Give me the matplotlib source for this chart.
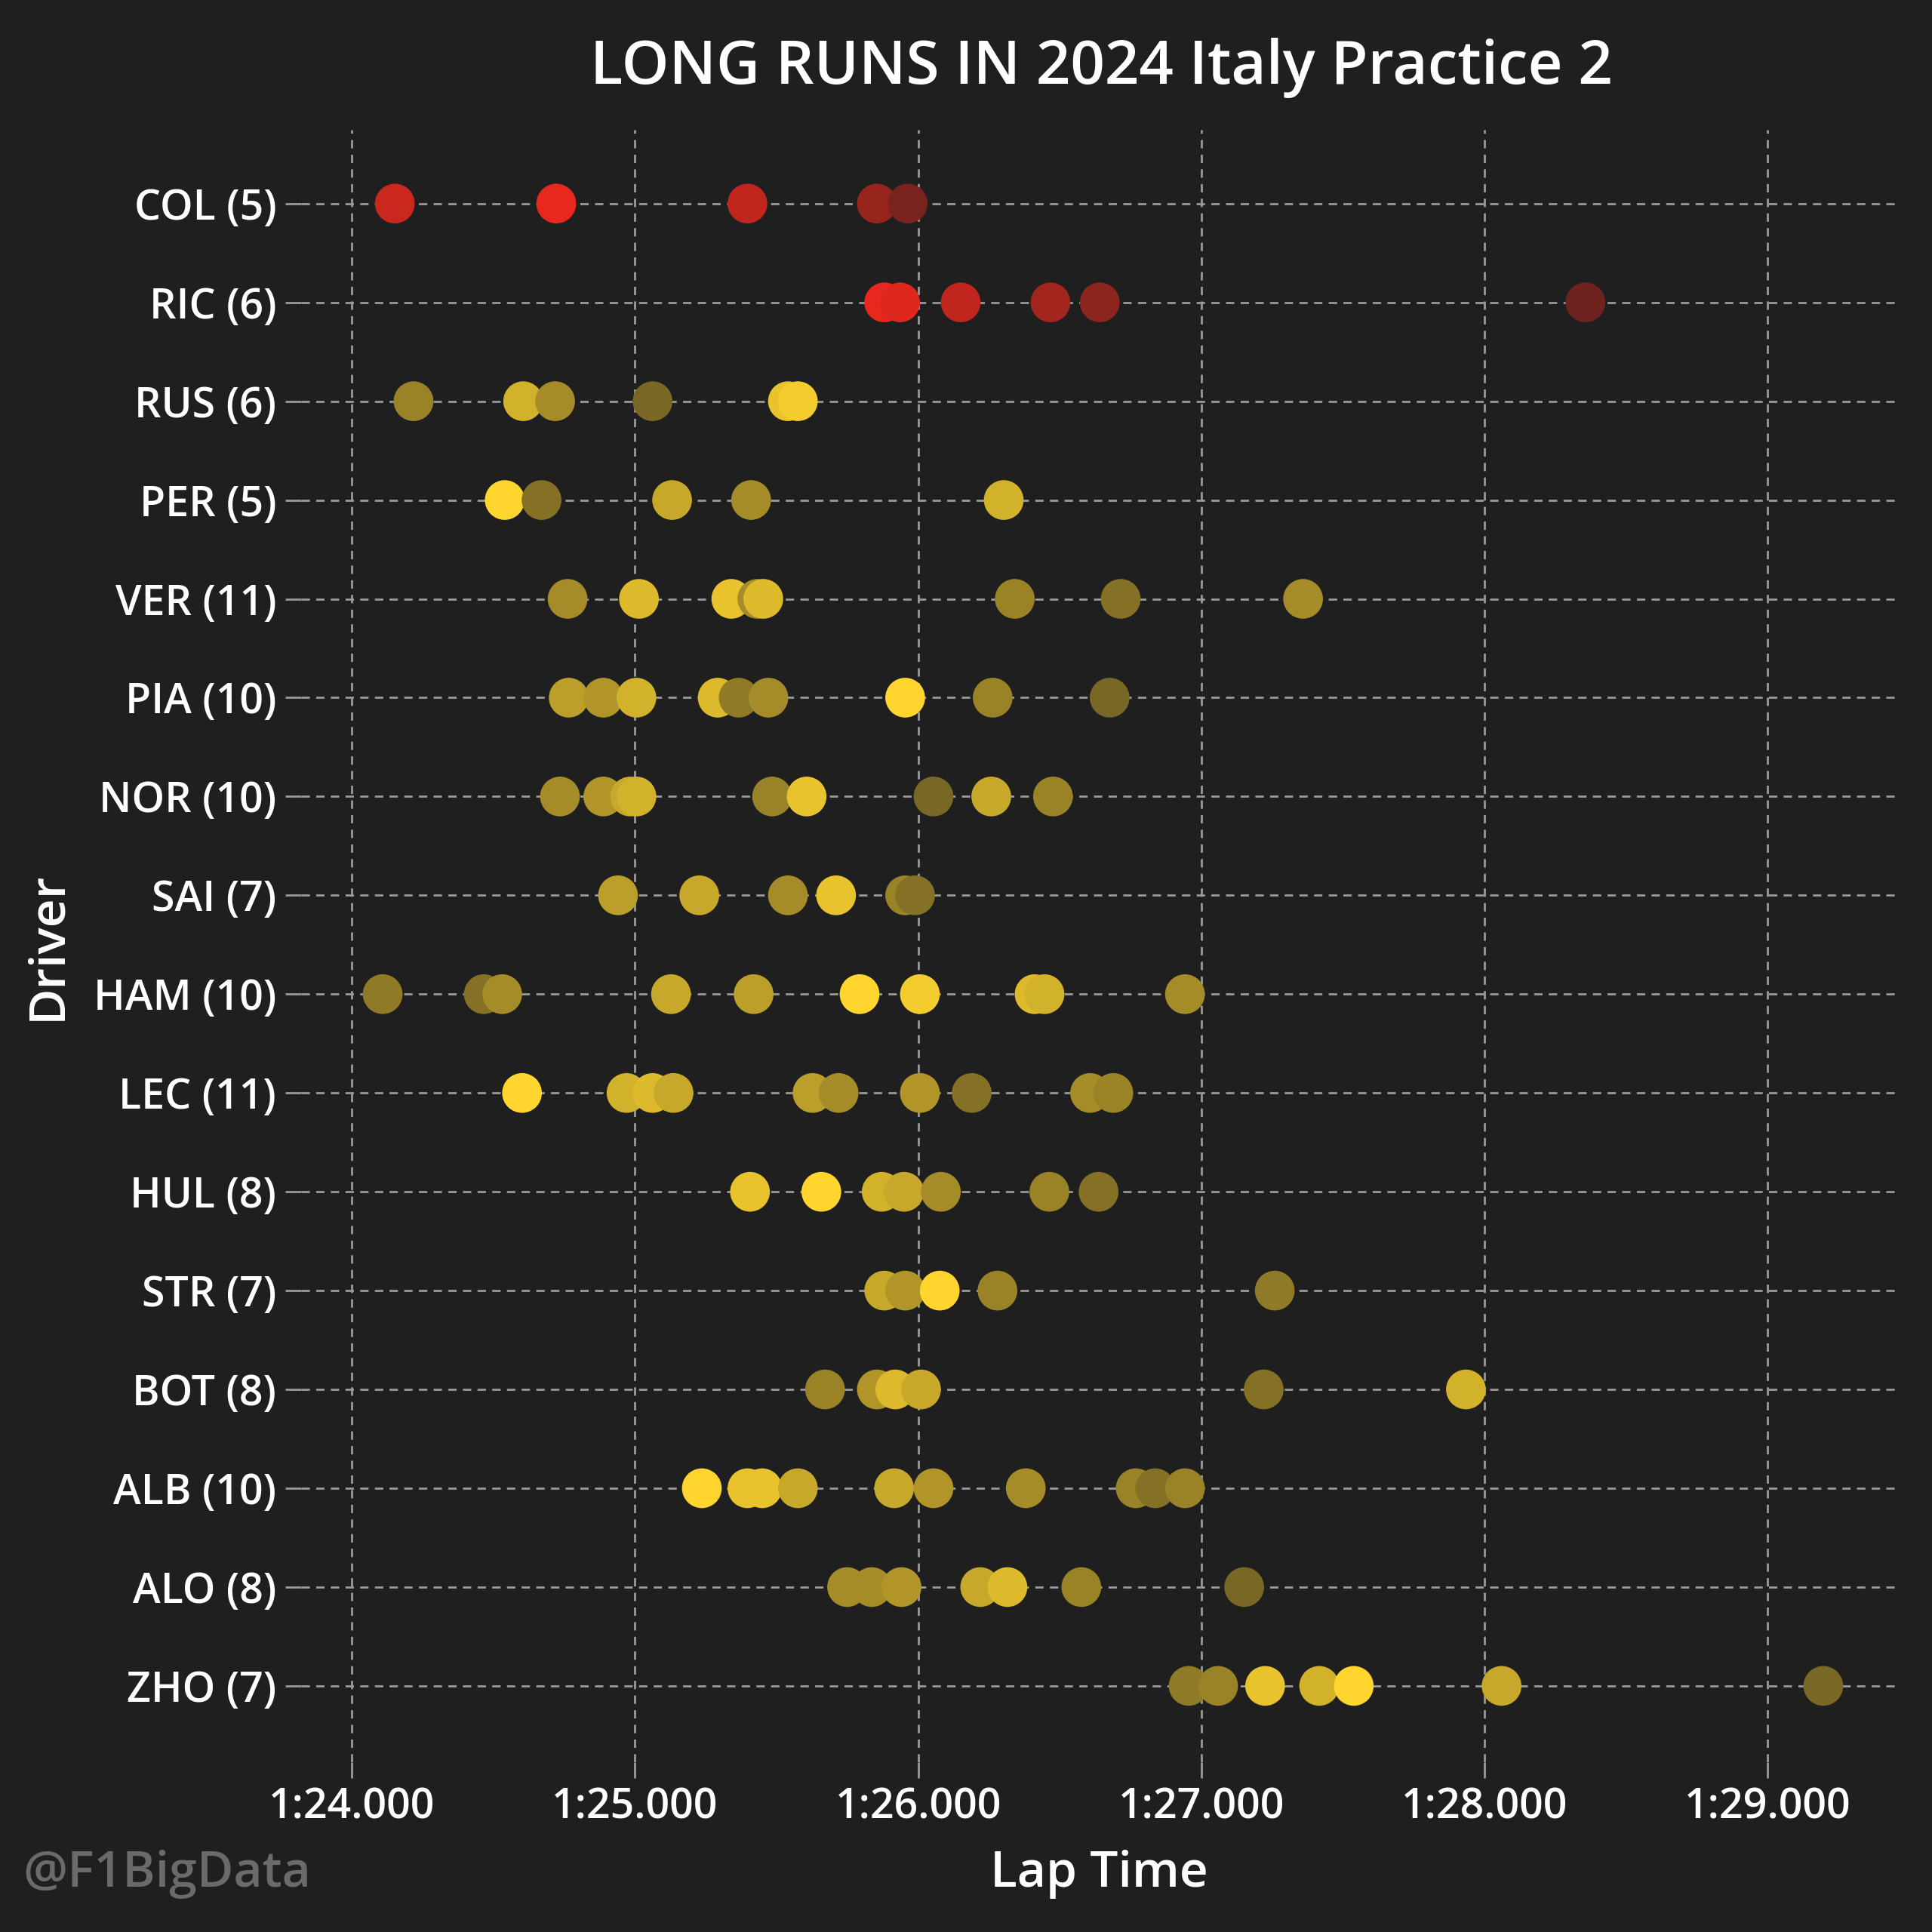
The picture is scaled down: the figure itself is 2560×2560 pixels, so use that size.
import matplotlib
matplotlib.use("Agg")
import matplotlib.pyplot as plt
import numpy as np

drivers = ["COL (5)","RIC (6)","RUS (6)","PER (5)","VER (11)","PIA (10)","NOR (10)","SAI (7)",
           "HAM (10)","LEC (11)","HUL (8)","STR (7)","BOT (8)","ALB (10)","ALO (8)","ZHO (7)"]
# lap times in seconds after 1:24.000
laps = [
 [0.152,0.722,1.397,1.854,1.963],
 [1.880,1.936,2.150,2.467,2.641,4.356],
 [0.218,0.605,0.718,1.062,1.540,1.575],
 [0.540,0.670,1.131,1.410,2.302],
 [0.762,1.014,1.340,1.432,1.453,2.341,2.715,3.359],
 [0.766,0.888,1.005,1.292,1.366,1.471,1.954,2.263,2.676],
 [0.735,0.888,0.983,1.005,1.484,1.606,2.054,2.258,2.476],
 [0.940,1.227,1.540,1.710,1.954,1.989],
 [0.109,0.466,0.531,1.127,1.419,1.793,2.006,2.411,2.446,2.942],
 [0.601,0.970,1.062,1.136,1.627,1.719,2.006,2.189,2.607,2.689],
 [1.406,1.658,1.871,1.950,2.080,2.463,2.637],
 [1.880,1.954,2.076,2.280,3.259],
 [1.671,1.854,1.919,2.010,3.220,3.934],
 [1.236,1.397,1.449,1.575,1.915,2.054,2.380,2.768,2.837,2.942],
 [1.749,1.836,1.941,2.219,2.315,2.576,3.151],
 [2.955,3.059,3.225,3.416,3.538,4.060,5.196],
]
# brightness of each point (1 = full compound colour)
shades = [
 [0.85,1.0,0.8,0.6,0.45],
 [1.0,0.95,0.8,0.65,0.55,0.4],
 [0.55,0.8,0.6,0.4,0.9,0.95],
 [1.0,0.45,0.75,0.6,0.8],
 [0.6,0.85,0.9,0.6,0.85,0.55,0.45,0.6],
 [0.7,0.65,0.8,0.85,0.5,0.6,1.0,0.55,0.4],
 [0.6,0.65,0.75,0.8,0.55,0.9,0.4,0.75,0.55],
 [0.7,0.75,0.6,0.9,0.55,0.45],
 [0.5,0.45,0.6,0.75,0.7,1.0,0.95,0.85,0.8,0.6],
 [1.0,0.8,0.85,0.75,0.7,0.6,0.65,0.45,0.6,0.55],
 [0.9,1.0,0.8,0.75,0.6,0.55,0.45],
 [0.75,0.65,1.0,0.55,0.5],
 [0.55,0.65,0.85,0.75,0.45,0.8],
 [1.0,0.9,0.9,0.75,0.75,0.65,0.6,0.55,0.45,0.55],
 [0.6,0.6,0.65,0.75,0.85,0.55,0.4],
 [0.5,0.55,0.9,0.8,1.0,0.75,0.4],
]
base_colors = ["#e8281e","#e8281e"] + ["#ffd52e"]*14
xticks = [0,1,2,3,4,5]
xticklabels = ["1:24.000","1:25.000","1:26.000","1:27.000","1:28.000","1:29.000"]

bg = "#1f1f1f"
plt.rcParams['font.family'] = ['Open Sans','DejaVu Sans']
fig = plt.figure(figsize=(10.24,10.24), dpi=250, facecolor=bg)
ax = fig.add_axes([0.156,0.088,0.826,0.845], facecolor=bg)
import matplotlib.colors as mc
for i,(xs,sh) in enumerate(zip(laps,shades)):
    rgb = np.array(mc.to_rgb(base_colors[i]))
    bgc = np.array(mc.to_rgb(bg))
    cols = [tuple(bgc+(rgb-bgc)*s) for s in sh]
    ax.scatter(xs,[i]*len(xs),s=230,c=cols,edgecolors='none',zorder=3)
ax.set_ylim(15.77,-0.75)
ax.set_xlim(-0.178,5.457)
ax.set_yticks(range(len(drivers)))
ax.set_yticklabels(drivers)
ax.set_xticks(xticks)
ax.set_xticklabels(xticklabels)
ax.grid(True,color="#9a9a9a",linestyle=(0,(4,3)),linewidth=0.8)
ax.set_axisbelow(True)
for s in ax.spines.values(): s.set_visible(False)
ax.tick_params(colors="#9a9a9a",labelcolor="white",labelsize=16,length=6)
for l in ax.get_xticklabels()+ax.get_yticklabels(): l.set_fontweight('semibold')
ax.set_xlabel("Lap Time",color="white",fontsize=19,fontweight='semibold',labelpad=8)
ax.set_ylabel("Driver",color="white",fontsize=19,fontweight='semibold',labelpad=8)
fig.text(0.57,0.965,"LONG RUNS IN 2024 Italy Practice 2",color="white",fontsize=23,
         fontweight='semibold',ha='center',va='center')
fig.text(0.012,0.03,"@F1BigData",color="#6a6a6a",fontsize=19,fontweight='semibold',ha='left',va='center')
fig.savefig("out.png",dpi=250,facecolor=bg)
